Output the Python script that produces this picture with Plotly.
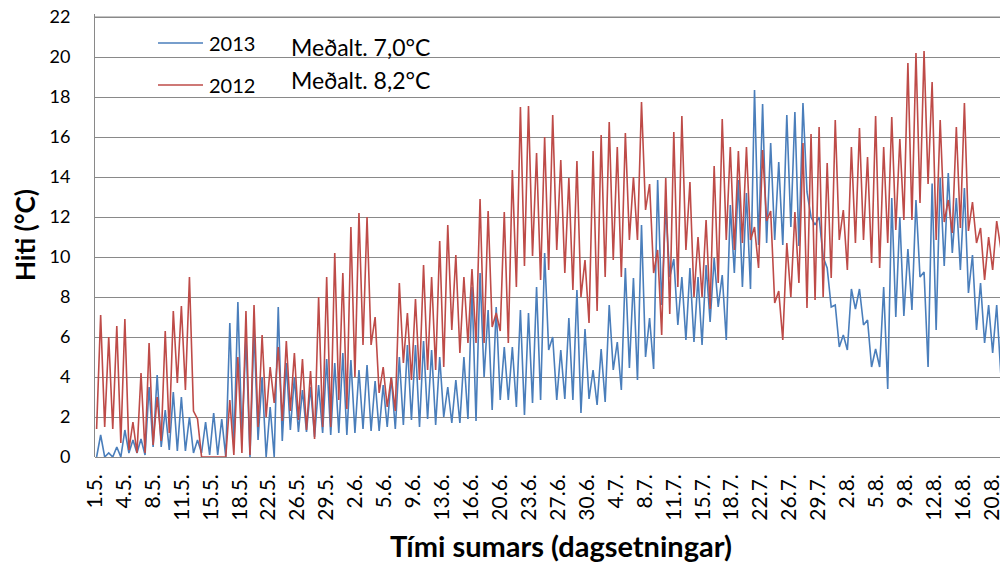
import plotly.graph_objects as go

# Dagleg lágmörk / hámörk lesin af myndinni (dagur 0 = 1.5.)
red_min = [1.4, 1.5, 1.4, 0.7, 0.35, 0.2, 0.2, 0.6, 0.8, 1.2,
           3.7, 3.35, 2.3, 0.0, 0.0, 0.0, 0.0, 0.1, 0.2, 0.1,
           1.5, 2.0, 2.7, 1.8, 2.3, 1.85, 1.35, 0.9, 1.5, 1.5,
           2.85, 2.4, 4.0, 5.6, 5.6, 3.2, 2.5, 2.3, 4.7, 3.85,
           3.85, 4.35, 4.35, 4.5, 6.35, 5.2, 5.7, 5.7, 5.7, 6.5,
           6.3, 5.7, 8.5, 9.55, 10.05, 8.85, 9.35, 10.35, 9.2, 8.35,
           8.0, 6.7, 7.3, 9.0, 9.85, 9.0, 10.85, 10.85, 12.35, 9.2,
           6.1, 7.15, 8.5, 10.35, 8.0, 8.0, 7.4, 8.7, 10.85, 10.35,
           10.7, 10.85, 9.45, 11.8, 7.7, 5.85, 8.0, 8.7, 7.45, 7.85,
           8.0, 8.95, 10.85, 9.35, 10.7, 10.85, 9.7, 9.45, 10.7, 11.35,
           11.85, 11.85, 12.7, 13.65, 10.85, 11.75, 11.2, 11.45, 11.3, 10.7,
           8.85, 9.35, 10.45]
red_max = [7.1, 6.0, 6.55, 6.9, 1.75, 4.2, 5.7, 3.0, 6.3, 7.3,
           7.55, 9.0, 1.9, 0.0, 0.0, 0.0, 2.85, 5.0, 7.3, 7.6,
           6.1, 4.5, 5.5, 5.8, 5.2, 4.9, 4.3, 8.0, 9.0, 10.2,
           9.2, 11.5, 12.2, 12.0, 7.0, 4.5, 4.0, 8.7, 7.2, 7.9,
           9.6, 9.0, 10.8, 11.6, 10.1, 9.0, 9.4, 12.9, 12.3, 7.2,
           12.25, 14.35, 17.5, 17.55, 15.2, 16.0, 17.1, 14.85, 13.95, 14.8,
           9.85, 15.3, 16.1, 16.75, 15.5, 16.2, 14.0, 17.75, 13.65, 10.35,
           13.95, 16.25, 17.05, 13.75, 11.0, 11.85, 14.55, 16.9, 15.5, 15.3,
           15.5, 11.5, 15.35, 12.3, 8.3, 10.7, 12.25, 15.7, 16.15, 16.5,
           14.7, 16.85, 12.35, 15.5, 16.45, 15.0, 17.05, 15.5, 17.0, 15.9,
           19.7, 20.2, 20.3, 18.75, 16.85, 12.85, 16.5, 17.7, 12.75, 11.45,
           11.0, 11.8, 11.5]
blue_min = [0.0, 0.0, 0.0, 0.0, 0.2, 0.2, 0.1, 0.5, 0.5, 0.35,
            0.3, 0.3, 0.2, 0.2, 0.1, 0.1, 0.0, 0.5, 1.0, 0.0,
            0.85, 0.0, 0.0, 0.8, 1.35, 1.25, 1.25, 1.0, 1.2, 1.1,
            1.2, 1.1, 1.2, 1.4, 1.3, 1.3, 1.5, 1.4, 1.6, 1.85,
            1.5, 1.9, 1.6, 2.0, 1.7, 1.7, 1.9, 1.8, 4.0, 2.35,
            2.85, 2.85, 2.5, 2.1, 2.7, 2.85, 5.35, 2.85, 2.9, 2.85,
            2.2, 2.9, 2.6, 2.75, 4.35, 3.35, 4.45, 3.85, 5.0, 4.4,
            7.6, 9.0, 6.6, 5.85, 5.75, 5.6, 6.75, 7.5, 5.85, 9.2,
            8.5, 8.4, 10.6, 10.7, 10.85, 10.6, 11.5, 10.55, 13.25, 11.6,
            10.0, 7.5, 5.5, 5.35, 7.4, 6.6, 4.5, 4.5, 3.4, 7.0,
            7.05, 7.35, 9.0, 4.5, 6.35, 9.55, 10.2, 9.35, 8.2, 6.35,
            5.7, 5.2, 4.2]
blue_max = [1.1, 0.2, 0.5, 1.35, 0.85, 0.9, 3.5, 4.1, 2.35, 3.25,
            3.0, 2.0, 0.85, 1.75, 2.2, 1.9, 6.7, 7.75, 6.0, 6.4,
            4.0, 2.5, 7.5, 4.7, 4.0, 3.35, 3.5, 3.6, 4.9, 4.7,
            5.2, 4.85, 4.35, 4.6, 3.8, 3.6, 4.0, 5.0, 5.6, 5.6,
            5.8, 5.35, 5.0, 3.5, 3.85, 5.0, 8.5, 9.2, 7.35, 7.5,
            5.5, 5.5, 7.35, 7.2, 8.5, 10.2, 6.0, 5.35, 6.95, 8.35,
            6.4, 4.35, 5.4, 7.6, 5.75, 9.45, 8.95, 11.6, 6.95, 13.85,
            12.5, 9.9, 9.0, 9.45, 9.0, 9.6, 9.95, 9.1, 12.6, 13.85,
            13.2, 18.35, 17.65, 15.7, 14.75, 17.1, 17.25, 17.7, 12.0, 12.0,
            9.45, 7.6, 6.1, 8.4, 8.4, 6.85, 5.4, 8.5, 12.95, 12.0,
            10.4, 12.85, 9.25, 13.68, 13.95, 14.2, 12.95, 13.45, 10.1, 8.7,
            7.6, 7.6, 9.45]

tick_labels = ["1.5.", "4.5.", "8.5.", "11.5.", "15.5.", "18.5.", "22.5.", "26.5.",
               "29.5.", "2.6.", "5.6.", "9.6.", "13.6.", "16.6.", "20.6.", "23.6.",
               "27.6.", "30.6.", "4.7.", "8.7.", "11.7.", "15.7.", "18.7.", "22.7.",
               "26.7.", "29.7.", "2.8.", "5.8.", "9.8.", "12.8.", "16.8.", "20.8."]

series_names = ["2013", "2012"]
mean_labels = ["Meðalt. 7,0°C", "Meðalt. 8,2°C"]

BLUE = "#4a7ebb"
RED = "#be4b48"
GRID = "#898989"
FONT = "Lato"


def daily_series(mins, maxs):
    # nætur-lágmark snemma dags, hámark síðdegis
    xs, ys = [], []
    for day, (lo, hi) in enumerate(zip(mins, maxs)):
        xs += [day + 0.2, day + 0.7]
        ys += [lo, hi]
    return xs, ys


fig = go.Figure()
for (mins, maxs), color, name in [((blue_min, blue_max), BLUE, series_names[0]),
                                  ((red_min, red_max), RED, series_names[1])]:
    xs, ys = daily_series(mins, maxs)
    fig.add_trace(go.Scatter(x=xs, y=ys, mode="lines", name=name,
                             line=dict(color=color, width=1.6), showlegend=False))

# merkin standa með jöfnu millibili (flokkaás í frumritinu)
tick_step = 3.585
tick_vals = [i * tick_step for i in range(len(tick_labels))]

# síðan er birt með 8px body-spássíu, því er allt fært um 8px
Y_TOP = 22.15
fig.update_layout(
    width=1008, height=564,
    margin=dict(l=87, r=8, t=6, b=115),
    plot_bgcolor="white", paper_bgcolor="white",
    font=dict(family=FONT, color="black"),
)
fig.update_xaxes(range=[0, 113.1], tickvals=tick_vals, ticktext=tick_labels,
                 tickangle=-90, tickfont=dict(size=21), ticklabelstandoff=12,
                 automargin=False,
                 showgrid=False, zeroline=False, showline=False)
fig.update_yaxes(range=[0, Y_TOP], tickvals=list(range(0, 23, 2)), tickfont=dict(size=18),
                 ticklabelstandoff=20, ticklabeloverflow="allow", automargin=False,
                 showgrid=True, gridcolor=GRID, gridwidth=1,
                 zeroline=True, zerolinecolor=GRID, zerolinewidth=1,
                 showline=True, linecolor=GRID, linewidth=1)

# efsta hnitalínan (22) dregin sérstaklega
fig.add_shape(type="line", xref="paper", yref="y", x0=0, x1=1, y0=22, y1=22,
              line=dict(color=GRID, width=1), layer="below")


# pixlastaðir frumritsins -> paper-hnit teiknisvæðis (0 við y=457, 20px á gráðu)
def px_x(px):
    return (px - 95) / 913


def px_y(py):
    return (457 - py) / (20 * Y_TOP)


legend_rows = [(43, BLUE, series_names[0], 47, mean_labels[0]),
               (85, RED, series_names[1], 80, mean_labels[1])]

for ly, color, name, my, mean_txt in legend_rows:
    fig.add_shape(type="line", xref="paper", yref="paper",
                  x0=px_x(158), x1=px_x(203), y0=px_y(ly), y1=px_y(ly),
                  line=dict(color=color, width=1.6))
    fig.add_annotation(xref="paper", yref="paper", x=px_x(207), y=px_y(ly),
                       text=name, showarrow=False, xanchor="left", yanchor="middle",
                       font=dict(size=20))
    fig.add_annotation(xref="paper", yref="paper", x=px_x(289), y=px_y(my),
                       text=mean_txt, showarrow=False, xanchor="left", yanchor="middle",
                       font=dict(size=23))

fig.add_annotation(xref="paper", yref="paper", x=px_x(561), y=px_y(545),
                   text="<b>Tími sumars (dagsetningar)</b>", showarrow=False,
                   xanchor="center", yanchor="middle", font=dict(size=29))
fig.add_annotation(xref="paper", yref="paper", x=px_x(25), y=px_y(235),
                   text="<b>Hiti (°C)</b>", showarrow=False, textangle=-90,
                   xanchor="center", yanchor="middle", font=dict(size=26))

fig.write_html("out.html")
